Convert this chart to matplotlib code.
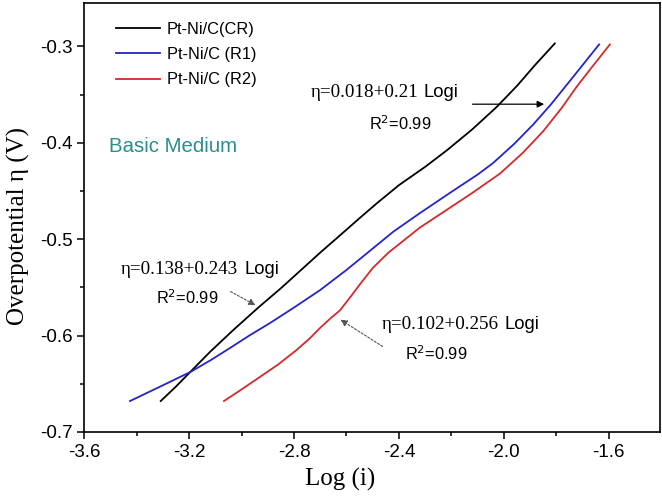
import numpy as np
import matplotlib.pyplot as plt
from matplotlib.ticker import MultipleLocator

# data (Log i, overpotential V)
cr_x = [-3.308, -3.25, -3.196, -3.12, -3.03, -2.936, -2.85, -2.777, -2.70, -2.62,
        -2.549, -2.485, -2.40, -2.30, -2.218, -2.12, -2.028, -1.95, -1.88, -1.806]
cr_y = [-0.668, -0.653, -0.638, -0.617, -0.594, -0.571, -0.551, -0.533, -0.514, -0.495,
        -0.478, -0.463, -0.444, -0.425, -0.408, -0.386, -0.363, -0.341, -0.319, -0.297]

r1_x = [-3.425, -3.31, -3.196, -3.12, -3.044, -2.97, -2.891, -2.80, -2.701, -2.60, -2.51,
        -2.42, -2.32, -2.20, -2.10, -2.041, -1.96, -1.888, -1.82, -1.74, -1.637]
r1_y = [-0.668, -0.653, -0.638, -0.626, -0.613, -0.600, -0.587, -0.571, -0.553, -0.532, -0.512,
        -0.492, -0.473, -0.451, -0.433, -0.421, -0.401, -0.381, -0.360, -0.333, -0.298]

r2_x = [-3.067, -3.00, -2.930, -2.86, -2.790, -2.74, -2.70, -2.66, -2.625, -2.585, -2.549, -2.50,
        -2.44, -2.38, -2.32, -2.231, -2.12, -2.015, -1.93, -1.85, -1.78, -1.723, -1.66, -1.596]
r2_y = [-0.668, -0.656, -0.643, -0.630, -0.615, -0.603, -0.592, -0.582, -0.574, -0.560, -0.547, -0.530,
        -0.514, -0.501, -0.488, -0.472, -0.452, -0.432, -0.411, -0.388, -0.364, -0.342, -0.320, -0.298]

labels = ['Pt-Ni/C(CR)', 'Pt-Ni/C (R1)', 'Pt-Ni/C (R2)']
colors = ['black', '#2424c8', '#d42a2a']

fig = plt.figure(figsize=(6.62, 4.97), dpi=100)
ax = fig.add_axes([0.127, 0.131, 0.870, 0.863])

ax.plot(cr_x, cr_y, color=colors[0], lw=1.3, label=labels[0])
ax.plot(r1_x, r1_y, color=colors[1], lw=1.3, label=labels[1])
ax.plot(r2_x, r2_y, color=colors[2], lw=1.3, label=labels[2])

ax.set_xlim(-3.6, -1.405)
ax.set_ylim(-0.7, -0.255)
ax.xaxis.set_minor_locator(MultipleLocator(0.2))
ax.yaxis.set_minor_locator(MultipleLocator(0.05))
ax.set_xticks([-3.6, -3.2, -2.8, -2.4, -2.0, -1.6])
ax.set_xticklabels(['-3.6', '-3.2', '-2.8', '-2.4', '-2.0', '-1.6'])
ax.set_yticks([-0.7, -0.6, -0.5, -0.4, -0.3])
ax.set_yticklabels(['-0.7', '-0.6', '-0.5', '-0.4', '-0.3'])
ax.tick_params(which='major', direction='out', length=5, width=1.1, labelsize=13.5)
ax.tick_params(which='minor', direction='out', length=3, width=1.1)
for lab in ax.get_xticklabels() + ax.get_yticklabels():
    lab.set_family('Liberation Sans')
for s in ax.spines.values():
    s.set_linewidth(1.2)

ax.set_xlabel('Log (i)', family='Liberation Serif', fontsize=18)
ax.xaxis.set_label_coords(0.444, -0.085)
ax.set_ylabel('Overpotential η (V)', family='Liberation Serif', fontsize=18)
ax.yaxis.set_label_coords(-0.094, 0.48)

leg = ax.legend(loc='upper left', bbox_to_anchor=(0.03, 0.99), frameon=False,
                prop={'family': 'Liberation Sans', 'size': 11.8}, handlelength=2.7,
                handletextpad=0.4, labelspacing=0.62)

ax.text(-3.505, -0.4035, 'Basic Medium', color='#2a8c8c', family='Liberation Sans',
        fontsize=14.7, va='center', ha='left')

# fit equations
eqs = [('η=0.018+0.21', -2.305, -0.348, -2.396, -0.380),
       ('η=0.138+0.243', -2.990, -0.531, -3.206, -0.561),
       ('η=0.102+0.256', -1.996, -0.589, -2.259, -0.619)]
for eq, x, y, rx, ry in eqs:
    ax.text(x - 0.022, y, eq, family='Liberation Serif', fontsize=13.8, ha='right', va='center')
    ax.text(x, y, 'Logi', family='Liberation Sans', fontsize=13.3, ha='left', va='center')
    ax.text(rx, ry, 'R$^2$=0.99', family='Liberation Sans', fontsize=11.8, ha='center', va='center')

ax.annotate('', xy=(-1.836, -0.360), xytext=(-2.130, -0.360),
            arrowprops=dict(arrowstyle='-|>', color='black', lw=0.9, mutation_scale=10))
ax.annotate('', xy=(-2.937, -0.570), xytext=(-3.051, -0.553),
            arrowprops=dict(arrowstyle='-|>', color='#555555', lw=0.8, ls=(0, (2, 1.5)),
                            mutation_scale=10))
ax.annotate('', xy=(-2.632, -0.582), xytext=(-2.453, -0.613),
            arrowprops=dict(arrowstyle='-|>', color='#555555', lw=0.8, ls=(0, (2, 1.5)),
                            mutation_scale=10))

fig.savefig('out.png', dpi=100)
